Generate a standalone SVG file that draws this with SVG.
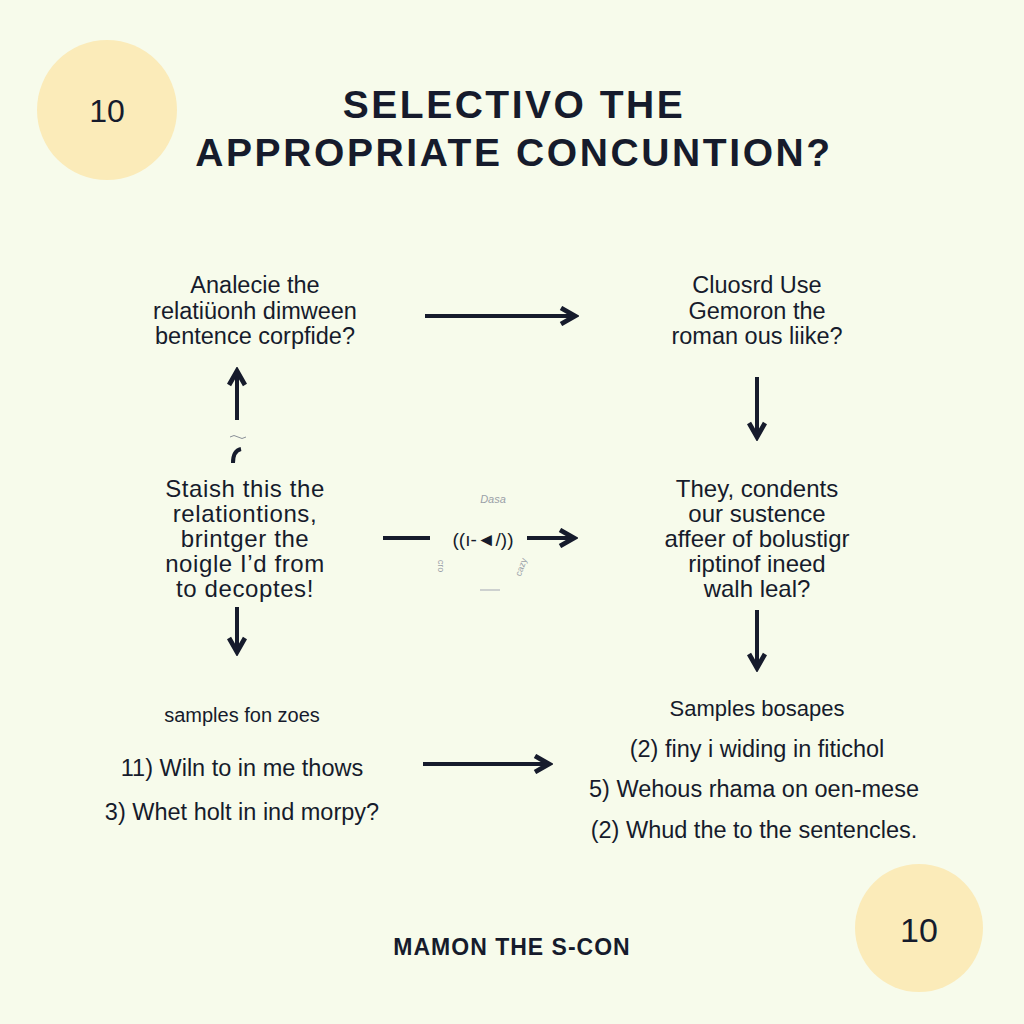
<svg xmlns="http://www.w3.org/2000/svg" width="1024" height="1024" viewBox="0 0 1024 1024">
<style>
.t{font-family:"Liberation Sans",Arial,sans-serif;font-size:23.5px;fill:#161b2c;text-anchor:middle}
.h{font-family:"Liberation Sans",Arial,sans-serif;font-weight:bold;fill:#161b2c;text-anchor:middle}
.c{stroke:#161b2c;stroke-width:4;fill:none}
.f{font-family:"Liberation Sans",Arial,sans-serif;fill:#9aa0a8;text-anchor:middle}
</style>
<defs>
<marker id="ah" viewBox="0 0 10 10" refX="8" refY="5" markerWidth="5" markerHeight="5" orient="auto" markerUnits="strokeWidth">
<path d="M1,1 L8,5 L1,9" fill="none" stroke="#161b2c" stroke-width="2.4" stroke-linejoin="miter"/>
</marker>
</defs>
<rect width="1024" height="1024" fill="#f7fbeb"/>
<g id="badge-top">
<circle cx="107" cy="110" r="70" fill="#fbebb9"/>
<text class="t" x="107" y="122" style="font-size:32px">10</text>
</g>
<g id="title">
<text class="h" x="514" y="118" style="font-size:39px;letter-spacing:2.5px">SELECTIVO THE</text>
<text class="h" x="514" y="166" style="font-size:39px;letter-spacing:2.6px">APPROPRIATE CONCUNTION?</text>
</g>
<g id="n1">
<text class="t" x="255" y="293">Analecie the</text>
<text class="t" x="255" y="319">relatiüonh dimween</text>
<text class="t" x="255" y="344">bentence corpfide?</text>
</g>
<g id="n2">
<text class="t" x="757" y="293">Cluosrd Use</text>
<text class="t" x="757" y="319">Gemoron the</text>
<text class="t" x="757" y="344">roman ous liike?</text>
</g>
<g id="n3" style="letter-spacing:0.6px">
<text class="t" x="245" y="497" style="font-size:24px">Staish this the</text>
<text class="t" x="245" y="522" style="font-size:24px">relationtions,</text>
<text class="t" x="245" y="547" style="font-size:24px">brintger the</text>
<text class="t" x="245" y="572" style="font-size:24px">noigle I’d from</text>
<text class="t" x="245" y="597" style="font-size:24px">to decoptes!</text>
</g>
<g id="n4">
<text class="t" x="757" y="497" style="font-size:24px">They, condents</text>
<text class="t" x="757" y="522" style="font-size:24px">our sustence</text>
<text class="t" x="757" y="547" style="font-size:24px">affeer of bolustigr</text>
<text class="t" x="757" y="572" style="font-size:24px">riptinof ineed</text>
<text class="t" x="757" y="597" style="font-size:24px">walh leal?</text>
</g>
<g id="n5">
<text class="t" x="242" y="722" style="font-size:20px">samples fon zoes</text>
<text class="t" x="242" y="776">11) Wiln to in me thows</text>
<text class="t" x="242" y="820">3) Whet holt in ind morpy?</text>
</g>
<g id="n6">
<text class="t" x="757" y="716" style="font-size:22px">Samples bosapes</text>
<text class="t" x="757" y="757">(2) finy i widing in fitichol</text>
<text class="t" x="754" y="797">5) Wehous rhama on oen-mese</text>
<text class="t" x="754" y="838">(2) Whud the to the sentencles.</text>
</g>
<g id="mid">
<text class="t" x="483" y="546" style="font-size:19px">((ı-◄/))</text>
<text class="f" x="493" y="503" style="font-size:11px;font-style:italic">Dasa</text>
<line x1="480" y1="590" x2="500" y2="590" stroke="#b0b6bc" stroke-width="1.2"/>
<text class="f" x="438" y="566" style="font-size:9px" transform="rotate(90 438 566)">cro</text>
<text class="f" x="524" y="568" style="font-size:9px" transform="rotate(-70 524 568)">cazy</text>
</g>
<g id="connectors">
<line class="c" x1="425" y1="316" x2="575" y2="316" marker-end="url(#ah)"/>
<line class="c" x1="757" y1="377" x2="757" y2="437" marker-end="url(#ah)"/>
<line class="c" x1="237" y1="420" x2="237" y2="371" marker-end="url(#ah)"/>
<path d="M233,463 C233,455 236,450 241,449" class="c" stroke-width="3"/>
<path d="M230,437 q4,-3 8,0 q4,3 8,0" fill="none" stroke="#8a9098" stroke-width="1"/>
<line class="c" x1="237" y1="607" x2="237" y2="652" marker-end="url(#ah)"/>
<line class="c" x1="383" y1="538" x2="430" y2="538"/>
<line class="c" x1="527" y1="538" x2="574" y2="538" marker-end="url(#ah)"/>
<line class="c" x1="757" y1="610" x2="757" y2="668" marker-end="url(#ah)"/>
<line class="c" x1="423" y1="764" x2="549" y2="764" marker-end="url(#ah)"/>
</g>
<g id="footer">
<text class="h" x="512" y="955" style="font-size:23px;letter-spacing:1px">MAMON THE S-CON</text>
</g>
<g id="badge-bottom">
<circle cx="919" cy="928" r="64" fill="#fbebb9"/>
<text class="t" x="919" y="942" style="font-size:34px">10</text>
</g>
</svg>
